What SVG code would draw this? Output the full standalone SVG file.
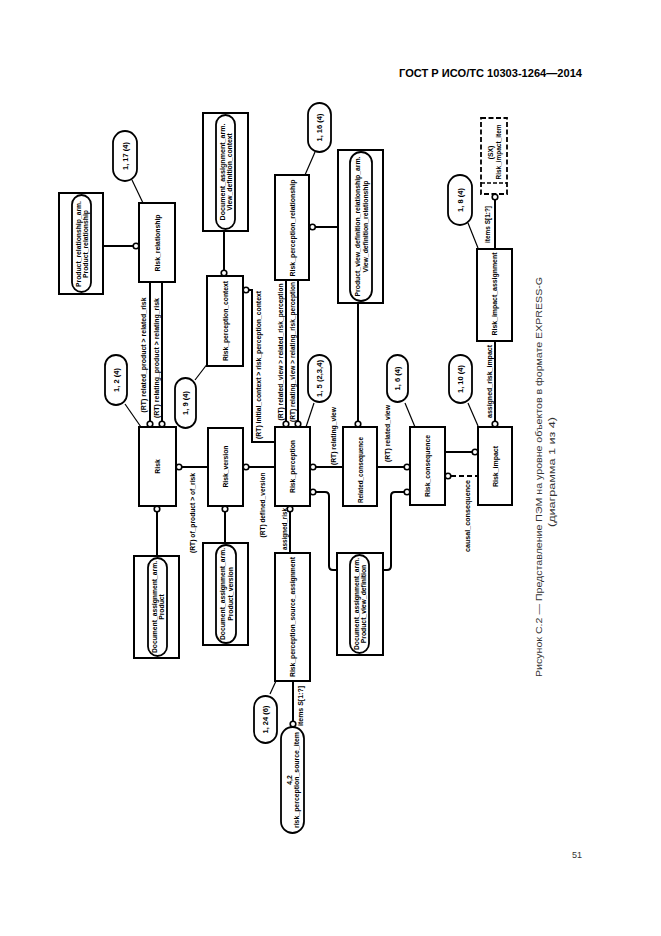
<svg xmlns="http://www.w3.org/2000/svg" width="661" height="936" viewBox="0 0 661 936">
<style>
.bx{fill:#fff;stroke:#000;stroke-width:2}
.dbx{fill:#fff;stroke:#000;stroke-width:1.8;stroke-dasharray:5,2.5}
.pl{fill:#fff;stroke:#000;stroke-width:1.8}
.t{font-family:"Liberation Sans",Arial,sans-serif;font-weight:bold;font-size:6.8px;text-anchor:middle;dominant-baseline:central;fill:#000}
.p{font-family:"Liberation Sans",Arial,sans-serif;font-weight:bold;font-size:7.5px;text-anchor:middle;dominant-baseline:central;fill:#000}
.l{font-family:"Liberation Sans",Arial,sans-serif;font-weight:bold;font-size:6.5px;text-anchor:middle;dominant-baseline:central;fill:#000}
.rel{fill:none;stroke:#000;stroke-width:2}
.drel{fill:none;stroke:#000;stroke-width:2;stroke-dasharray:5,3}
.ld{fill:none;stroke:#000;stroke-width:1.2}
.c{fill:#fff;stroke:#000;stroke-width:1.6}
.hd{font-family:"Liberation Sans",Arial,sans-serif;font-weight:bold;font-size:10.5px;fill:#000}
.cap{font-family:"Liberation Sans",Arial,sans-serif;font-size:8.5px;text-anchor:middle;dominant-baseline:central;fill:#333}
</style>
<rect width="661" height="936" fill="#fff"/>
<text class="hd" x="399" y="77" textLength="183" lengthAdjust="spacingAndGlyphs">ГОСТ Р ИСО/ТС 10303-1264—2014</text>
<text x="572" y="858" font-family="Liberation Sans, Arial, sans-serif" font-size="9" fill="#333">51</text>
<g id="caption">
<text class="cap" transform="translate(539,477) rotate(-90)" textLength="400" lengthAdjust="spacingAndGlyphs">Рисунок С.2 — Представление ПЭМ на уровне объектов в формате EXPRESS-G</text>
<text class="cap" transform="translate(552,472) rotate(-90)" textLength="110" lengthAdjust="spacingAndGlyphs">(диаграмма 1 из 4)</text>
</g>

<g id="connectors">
<!-- Product_relationship -> Risk_relationship -->
<line class="rel" x1="103" y1="246" x2="133" y2="246"/>
<circle class="c" cx="136" cy="246" r="2.8"/>
<line class="ld" x1="132" y1="180" x2="143" y2="203"/>
<!-- View_definition_context -> Risk_perception_context -->
<line class="rel" x1="224" y1="231" x2="224" y2="271"/>
<circle class="c" cx="224" cy="273" r="2.8"/>
<!-- Risk_relationship -> Risk -->
<line class="rel" x1="150" y1="282" x2="150" y2="422"/>
<circle class="c" cx="150" cy="424" r="2.8"/>
<line class="rel" x1="162" y1="282" x2="162" y2="422"/>
<circle class="c" cx="162" cy="424" r="2.8"/>
<text class="l" transform="translate(143,355) rotate(-90)" textLength="115" lengthAdjust="spacingAndGlyphs">(RT) related_product &gt; related_risk</text>
<text class="l" transform="translate(156,358) rotate(-90)" textLength="120" lengthAdjust="spacingAndGlyphs">(RT) relating_product &gt; relating_risk</text>
<line class="ld" x1="125" y1="404" x2="141" y2="427"/>
<!-- Risk -> Risk_version -->
<line class="rel" x1="180" y1="467" x2="208" y2="467"/>
<circle class="c" cx="179" cy="467" r="2.8"/>
<text class="l" transform="translate(192,513) rotate(-90)" textLength="80" lengthAdjust="spacingAndGlyphs">(RT) of_product &gt; of_risk</text>
<!-- Risk_version -> Risk_perception -->
<line class="rel" x1="249" y1="467" x2="275" y2="467"/>
<circle class="c" cx="246" cy="467" r="2.8"/>
<text class="l" transform="translate(262.5,505) rotate(-90)" textLength="65" lengthAdjust="spacingAndGlyphs">(RT) defined_version</text>
<!-- Risk_perception_context -> Risk_perception -->
<path class="rel" d="M249,290 H252 V442 H275"/>
<circle class="c" cx="246" cy="290" r="2.8"/>
<text class="l" transform="translate(258.5,365) rotate(-90)" textLength="148" lengthAdjust="spacingAndGlyphs">(RT) initial_context &gt; risk_perception_context</text>
<line class="ld" x1="195" y1="380" x2="208" y2="363"/>
<!-- Risk_perception_relationship -> Risk_perception -->
<line class="rel" x1="286" y1="280" x2="286" y2="422"/>
<circle class="c" cx="286" cy="424" r="2.8"/>
<line class="rel" x1="298" y1="280" x2="298" y2="422"/>
<circle class="c" cx="298" cy="424" r="2.8"/>
<text class="l" transform="translate(280,352) rotate(-90)" textLength="137" lengthAdjust="spacingAndGlyphs">(RT) related_view &gt; related_risk_perception</text>
<text class="l" transform="translate(292,352) rotate(-90)" textLength="140" lengthAdjust="spacingAndGlyphs">(RT) relating_view &gt; relating_risk_perception</text>
<line class="ld" x1="315" y1="152" x2="305" y2="175"/>
<line class="rel" x1="315" y1="227" x2="338" y2="227"/>
<circle class="c" cx="312.5" cy="227" r="2.8"/>
<!-- Product_view_definition_relationship -> Related_consequence -->
<line class="rel" x1="358" y1="303" x2="358" y2="422"/>
<circle class="c" cx="358" cy="424" r="2.8"/>
<line class="ld" x1="314" y1="403" x2="306" y2="427"/>
<!-- Risk_perception -> Related_consequence -->
<line class="rel" x1="316" y1="467" x2="343" y2="467"/>
<circle class="c" cx="313" cy="467" r="2.8"/>
<text class="l" transform="translate(333.5,436) rotate(-90)" textLength="58" lengthAdjust="spacingAndGlyphs">(RT) relating_view</text>
<!-- Related_consequence -> Risk_consequence -->
<line class="rel" x1="377" y1="467" x2="404" y2="467"/>
<circle class="c" cx="407" cy="467" r="2.8"/>
<text class="l" transform="translate(387,433.5) rotate(-90)" textLength="57" lengthAdjust="spacingAndGlyphs">(RT) related_view</text>
<line class="ld" x1="405" y1="403" x2="415" y2="427"/>
<!-- Risk_perception / Risk_consequence -> Product_view_definition doc -->
<path class="rel" d="M316,492 H325 Q329,492 329,496 V566 Q329,570 333,570 H337"/>
<circle class="c" cx="313" cy="492" r="2.8"/>
<path class="rel" d="M404,492 H395 Q391,492 391,496 V566 Q391,570 387,570 H383"/>
<circle class="c" cx="407" cy="492" r="2.8"/>
<!-- Risk_consequence -> Risk_impact -->
<line class="rel" x1="445" y1="452" x2="472" y2="452"/>
<circle class="c" cx="475" cy="452" r="2.8"/>
<line class="drel" x1="451" y1="476" x2="478" y2="476"/>
<circle class="c" cx="448" cy="476" r="2.8"/>
<text class="l" transform="translate(467.5,516) rotate(-90)" textLength="72" lengthAdjust="spacingAndGlyphs">causal_consequence</text>
<line class="ld" x1="468" y1="403" x2="478" y2="426"/>
<!-- Risk_impact_assignment -> Risk_impact -->
<line class="rel" x1="495" y1="341" x2="495" y2="422"/>
<circle class="c" cx="495" cy="424" r="2.8"/>
<text class="l" transform="translate(489,381.5) rotate(-90)" textLength="73" lengthAdjust="spacingAndGlyphs">assigned_risk_impact</text>
<!-- Risk_impact_item -> Risk_impact_assignment -->
<line class="rel" x1="495" y1="200" x2="495" y2="249"/>
<circle class="c" cx="495" cy="197" r="2.8"/>
<text class="l" transform="translate(487.5,224.5) rotate(-90)" textLength="37" lengthAdjust="spacingAndGlyphs">items S[1:?]</text>
<line class="ld" x1="468" y1="223" x2="478" y2="248"/>
<!-- bottom doc links -->
<line class="rel" x1="157" y1="512" x2="157" y2="556"/>
<circle class="c" cx="157" cy="509" r="2.8"/>
<line class="rel" x1="225" y1="512" x2="225" y2="543"/>
<circle class="c" cx="225" cy="509" r="2.8"/>
<line class="rel" x1="290" y1="512" x2="290" y2="553"/>
<circle class="c" cx="290" cy="509" r="2.8"/>
<text class="l" transform="translate(284.5,529) rotate(-90)" textLength="42" lengthAdjust="spacingAndGlyphs">assigned_risk</text>
<!-- source assignment -> source item -->
<line class="rel" x1="293" y1="681" x2="293" y2="721"/>
<circle class="c" cx="293" cy="724" r="2.8"/>
<text class="l" transform="translate(300,706) rotate(-90)" textLength="40" lengthAdjust="spacingAndGlyphs">items S[1:?]</text>
<line class="ld" x1="270" y1="694" x2="276" y2="681"/>
</g>

<g id="product_relationship_arm">
<rect class="bx" x="59" y="193" width="44" height="101"/>
<rect class="pl" x="72" y="195" width="19" height="97" rx="9.5"/>
<text class="t" transform="translate(81.5,244) rotate(-90)"><tspan x="0" y="-3.6" textLength="86" lengthAdjust="spacingAndGlyphs">Product_relationship_arm.</tspan><tspan x="0" y="3.6">Product_relationship</tspan></text>
</g>
<g id="pill_1_17">
<rect class="pl" x="113" y="131" width="24" height="50" rx="12"/>
<text class="p" transform="translate(125,156) rotate(-90)">1, 17 (4)</text>
</g>
<g id="risk_relationship">
<rect class="bx" x="139" y="203" width="36" height="79"/>
<text class="t" transform="translate(157,243) rotate(-90)" textLength="57" lengthAdjust="spacingAndGlyphs">Risk_relationship</text>
</g>
<g id="view_definition_context">
<rect class="bx" x="203" y="113" width="45" height="118"/>
<rect class="pl" x="216" y="115" width="19" height="114" rx="9.5"/>
<text class="t" transform="translate(225.5,172) rotate(-90)"><tspan x="0" y="-3.6" textLength="97" lengthAdjust="spacingAndGlyphs">Document_assignment_arm.</tspan><tspan x="0" y="3.6">View_definition_context</tspan></text>
</g>
<g id="risk_perception_context">
<rect class="bx" x="207" y="276" width="36" height="90"/>
<text class="t" transform="translate(225,321) rotate(-90)" textLength="80" lengthAdjust="spacingAndGlyphs">Risk_perception_context</text>
</g>
<g id="pill_1_9">
<rect class="pl" x="175" y="378" width="21" height="50" rx="10.5"/>
<text class="p" transform="translate(185.5,403) rotate(-90)">1, 9 (4)</text>
</g>
<g id="pill_1_16">
<rect class="pl" x="308" y="103" width="23" height="49" rx="11.5"/>
<text class="p" transform="translate(319.5,127.5) rotate(-90)">1, 16 (4)</text>
</g>
<g id="risk_perception_relationship">
<rect class="bx" x="275" y="175" width="34" height="105"/>
<text class="t" transform="translate(292,228) rotate(-90)" textLength="97" lengthAdjust="spacingAndGlyphs">Risk_perception_relationship</text>
</g>
<g id="product_view_definition_relationship_arm">
<rect class="bx" x="338" y="150" width="45" height="153"/>
<rect class="pl" x="350" y="152" width="22" height="149" rx="11"/>
<text class="t" transform="translate(361,226.5) rotate(-90)"><tspan x="0" y="-3.6" textLength="140" lengthAdjust="spacingAndGlyphs">Product_view_definition_relationship_arm.</tspan><tspan x="0" y="3.6">View_definition_relationship</tspan></text>
</g>
<g id="risk_impact_item">
<rect class="dbx" x="481" y="118" width="26" height="76"/>
<line x1="481" y1="183" x2="507" y2="183" stroke="#000" stroke-width="1.5" stroke-dasharray="4,2"/>
<text class="t" transform="translate(490,152.5) rotate(-90)">(SX)</text>
<text class="t" transform="translate(498,152) rotate(-90)" textLength="55" lengthAdjust="spacingAndGlyphs">Risk_impact_item</text>
</g>
<g id="pill_1_8">
<rect class="pl" x="448" y="175" width="24" height="50" rx="12"/>
<text class="p" transform="translate(460,200) rotate(-90)">1, 8 (4)</text>
</g>
<g id="risk_impact_assignment">
<rect class="bx" x="477" y="249" width="35" height="92"/>
<text class="t" transform="translate(494.5,294) rotate(-90)" textLength="83" lengthAdjust="spacingAndGlyphs">Risk_impact_assignment</text>
</g>
<g id="pill_1_2">
<rect class="pl" x="105" y="355" width="22" height="50" rx="11"/>
<text class="p" transform="translate(116,380) rotate(-90)">1, 2 (4)</text>
</g>
<g id="risk">
<rect class="bx" x="139" y="427" width="37" height="79"/>
<text class="t" transform="translate(157.5,466.5) rotate(-90)">Risk</text>
</g>
<g id="risk_version">
<rect class="bx" x="208" y="428" width="35" height="78"/>
<text class="t" transform="translate(225.5,466.5) rotate(-90)" textLength="42" lengthAdjust="spacingAndGlyphs">Risk_version</text>
</g>
<g id="pill_1_5">
<rect class="pl" x="308" y="355" width="23" height="47" rx="11.5"/>
<text class="p" transform="translate(319.5,378.5) rotate(-90)" textLength="37" lengthAdjust="spacingAndGlyphs">1, 5 (2,3,4)</text>
</g>
<g id="risk_perception">
<rect class="bx" x="275" y="427" width="35" height="79"/>
<text class="t" transform="translate(292.5,466.5) rotate(-90)" textLength="53" lengthAdjust="spacingAndGlyphs">Risk_perception</text>
</g>
<g id="related_consequence">
<rect class="bx" x="343" y="427" width="34" height="79"/>
<text class="t" transform="translate(360,470) rotate(-90)" textLength="66" lengthAdjust="spacingAndGlyphs">Related_consequence</text>
</g>
<g id="pill_1_6">
<rect class="pl" x="387" y="355" width="21" height="47" rx="10.5"/>
<text class="p" transform="translate(397.5,378.5) rotate(-90)">1, 6 (4)</text>
</g>
<g id="risk_consequence">
<rect class="bx" x="410" y="427" width="35" height="78"/>
<text class="t" transform="translate(427.5,466) rotate(-90)" textLength="62" lengthAdjust="spacingAndGlyphs">Risk_consequence</text>
</g>
<g id="pill_1_10">
<rect class="pl" x="449" y="355" width="23" height="48" rx="11.5"/>
<text class="p" transform="translate(460.5,379) rotate(-90)">1, 10 (4)</text>
</g>
<g id="risk_impact">
<rect class="bx" x="478" y="427" width="34" height="78"/>
<text class="t" transform="translate(495,466.5) rotate(-90)" textLength="41" lengthAdjust="spacingAndGlyphs">Risk_impact</text>
</g>
<g id="doc_product">
<rect class="bx" x="134" y="556" width="45" height="102"/>
<rect class="pl" x="148" y="558" width="19" height="98" rx="9.5"/>
<text class="t" transform="translate(157.5,607) rotate(-90)"><tspan x="0" y="-3.6" textLength="92" lengthAdjust="spacingAndGlyphs">Document_assignment_arm.</tspan><tspan x="0" y="3.6">Product</tspan></text>
</g>
<g id="doc_product_version">
<rect class="bx" x="203" y="543" width="45" height="102"/>
<rect class="pl" x="216" y="545" width="20" height="98" rx="10"/>
<text class="t" transform="translate(226,594) rotate(-90)"><tspan x="0" y="-3.6" textLength="92" lengthAdjust="spacingAndGlyphs">Document_assignment_arm.</tspan><tspan x="0" y="3.6">Product_version</tspan></text>
</g>
<g id="risk_perception_source_assignment">
<rect class="bx" x="275" y="553" width="35" height="128"/>
<text class="t" transform="translate(292.5,617) rotate(-90)" textLength="120" lengthAdjust="spacingAndGlyphs">Risk_perception_source_assignment</text>
</g>
<g id="doc_product_view_definition">
<rect class="bx" x="337" y="553" width="46" height="102"/>
<rect class="pl" x="350" y="555" width="19" height="98" rx="9.5"/>
<text class="t" transform="translate(359.5,604) rotate(-90)"><tspan x="0" y="-3.6" textLength="92" lengthAdjust="spacingAndGlyphs">Document_assignment_arm.</tspan><tspan x="0" y="3.6">Product_view_definition</tspan></text>
</g>
<g id="pill_1_24">
<rect class="pl" x="254" y="696" width="23" height="47" rx="11.5"/>
<text class="p" transform="translate(265.5,719.5) rotate(-90)">1, 24 (6)</text>
</g>
<g id="risk_perception_source_item">
<rect class="pl" x="281" y="727" width="23" height="106" rx="11.5"/>
<text class="t" transform="translate(292.5,780) rotate(-90)"><tspan x="0" y="-3.8">4,2</tspan><tspan x="0" y="3.8" textLength="96" lengthAdjust="spacingAndGlyphs">risk_perception_source_item</tspan></text>
</g>
</svg>
